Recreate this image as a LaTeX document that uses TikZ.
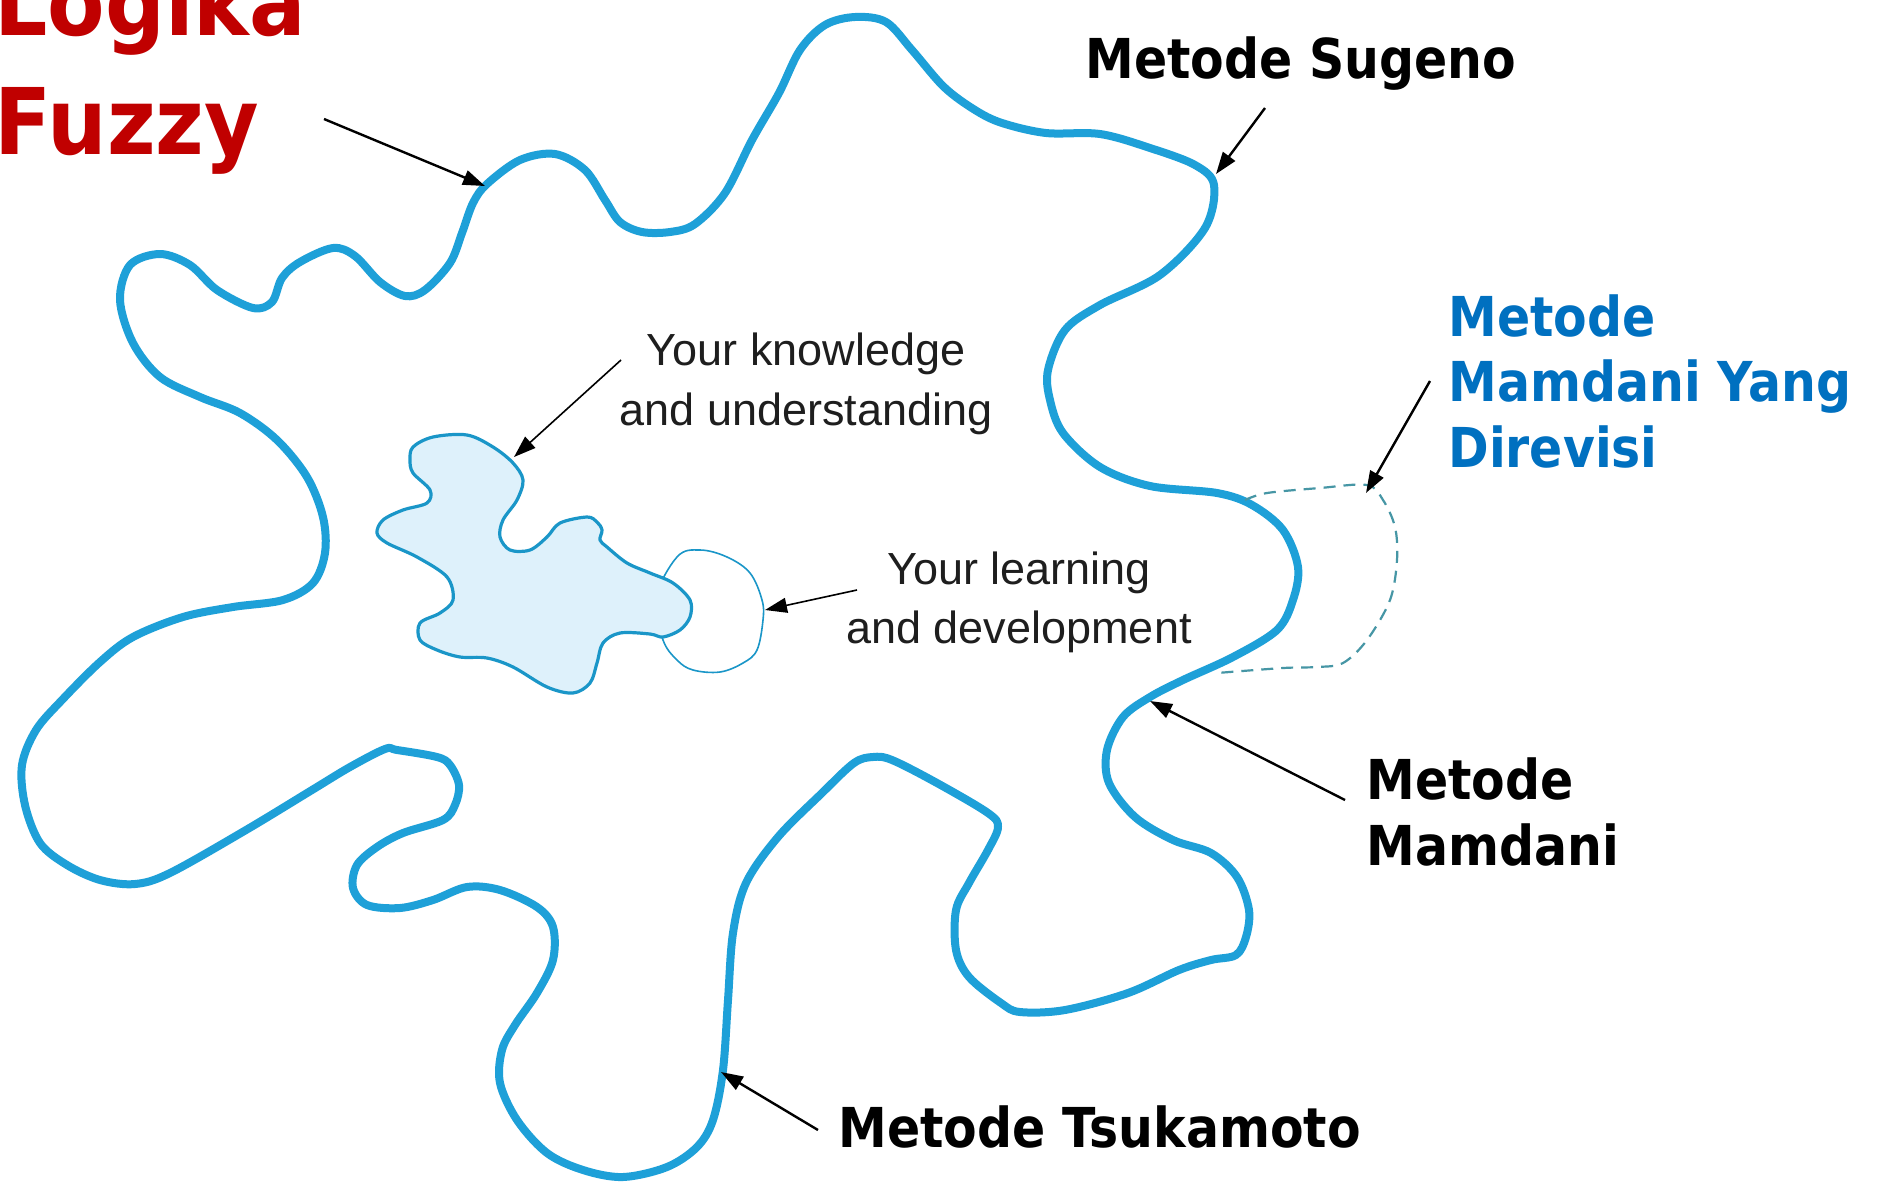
\documentclass[tikz,border=0pt]{standalone}
\usepackage{fontspec}
\usetikzlibrary{arrows.meta}
\newfontfamily\lblfont{DejaVu Sans}[FakeStretch=0.89]
\newfontfamily\titlefont{DejaVu Sans}[FakeStretch=0.91]
\newfontfamily\txtfont{Liberation Sans}
\definecolor{blobline}{RGB}{30,160,216}
\definecolor{innerline}{RGB}{26,150,200}
\definecolor{innerfill}{RGB}{222,241,251}
\definecolor{dashline}{RGB}{70,150,165}
\definecolor{fuzzyred}{RGB}{192,0,0}
\definecolor{mamblue}{RGB}{0,112,192}
\definecolor{txtgray}{RGB}{30,30,30}
\tikzset{
  ptr/.style={line width=1.2pt, draw=black, -{Triangle[length=11pt,width=7.5pt]}},
  thinptr/.style={line width=0.8pt, draw=black, -{Triangle[length=11pt,width=7.5pt]}},
  bold lbl/.style={anchor=base west, inner sep=0pt, font=\lblfont\bfseries\fontsize{27.5}{33}\selectfont},
  title lbl/.style={anchor=base west, inner sep=0pt, text=fuzzyred, font=\titlefont\bfseries\fontsize{46}{59}\selectfont},
  inner lbl/.style={anchor=base, inner sep=0pt, text=txtgray, font=\txtfont\fontsize{22.5}{30}\selectfont},
  outerblob/.style={draw=blobline, line width=4pt, line join=round},
  innerblob/.style={draw=innerline, fill=innerfill, line width=1.6pt, line join=round},
  learncircle/.style={draw=innerline, line width=0.8pt, fill=white},
  dashcurve/.style={draw=dashline, line width=1.1pt, dash pattern=on 6pt off 4pt}
}
\begin{document}
\begin{tikzpicture}[x=0.5pt,y=-0.5pt]
\useasboundingbox (0,0) rectangle (1879,1184);
\clip (0,0) rectangle (1879,1184);
\fill[white] (0,0) rectangle (1879,1184);

% outer blob
\draw[outerblob] plot[smooth cycle, tension=0.55] coordinates {
(120,300) (130,265) (160,254) (190,265) (217,290) (253,308) (272,302) (282,278) (300,262) (333,248) (355,256) (380,282) (405,296) (425,290) (450,263) (462,233) (473,203) (487,184) (520,160) (555,154) (585,170) (605,200) (620,222) (642,232) (670,232) (695,224) (725,193) (752,140) (779,93) (800,50) (825,25) (855,17) (886,22) (912,50) (944,87) (975,110) (1002,123) (1046,133) (1100,134) (1150,148) (1195,165) (1214,185) (1205,228) (1160,275) (1100,305) (1065,330) (1048,370) (1050,400) (1063,433) (1100,467) (1150,486) (1217,493) (1252,505) (1283,530) (1298,567) (1293,600) (1277,630) (1233,657) (1183,680) (1150,697) (1123,717) (1107,750) (1109,783) (1135,817) (1173,840) (1211,853) (1237,877) (1249,910) (1246,937) (1236,955) (1211,960) (1179,970) (1128,993) (1065,1010) (1020,1012) (1001,1003) (969,977) (956,950) (956,910) (969,883) (988,850) (998,827) (988,813) (937,783) (892,760) (873,757) (854,763) (822,793) (778,837) (746,883) (733,933) (728,1000) (723,1070) (713,1120) (697,1147) (667,1167) (623,1177) (583,1170) (547,1153) (517,1120) (500,1083) (502,1050) (515,1025) (537,993) (553,960) (553,927) (537,907) (500,890) (467,887) (433,900) (400,908) (367,905) (353,888) (357,865) (377,847) (403,833) (443,820) (455,805) (459,785) (450,765) (437,757) (397,750) (385,749) (350,767) (312,790) (246,830) (170,873) (135,884) (100,880) (67,865) (40,843) (25,805) (22,765) (36,730) (62,700) (100,662) (133,637) (183,617) (233,607) (283,600) (313,583) (325,553) (323,517) (307,477) (277,440) (240,413) (200,397) (160,377) (133,343)
};

% dashed revised region
\draw[dashcurve] plot[smooth, tension=0.55] coordinates {
(1245,500) (1267,493) (1320,488) (1367,485) (1383,500) (1395,527) (1397,560) (1390,600) (1367,640) (1343,663) (1317,667) (1283,668) (1217,673)
};

% learning circle (behind inner blob)
\draw[learncircle] plot[smooth cycle, tension=0.6] coordinates {
(663,640) (655,600) (677,557) (700,550) (727,557) (750,573) (762,600) (763,620) (757,650) (743,663) (720,672) (693,670) (677,660)
};

% inner knowledge blob
\draw[innerblob] plot[smooth cycle, tension=0.55] coordinates {
(413,447) (433,437) (467,435) (493,447) (513,463) (523,480) (517,500) (503,520) (500,537) (510,550) (530,550) (547,537) (560,523) (587,517) (597,522) (602,530) (600,540) (607,547) (627,563) (650,573) (673,583) (690,600) (690,617) (680,630) (663,637) (650,634) (620,633) (603,643) (597,663) (590,683) (573,693) (547,687) (513,667) (487,658) (460,657) (437,650) (420,640) (420,623) (440,613) (453,600) (447,577) (417,557) (387,543) (377,533) (383,520) (403,510) (427,503) (430,490) (413,473) (410,460)
};

% texts
\node[title lbl] (logika) at (-6,35) {Logika};
\node[title lbl] (fuzzy) at (-6,154) {Fuzzy};
\node[bold lbl] (sugeno) at (1085,78) {Metode Sugeno};
\node[bold lbl, text=mamblue] (rev1) at (1448,336) {Metode};
\node[bold lbl, text=mamblue] (rev2) at (1448,401) {Mamdani Yang};
\node[bold lbl, text=mamblue] (rev3) at (1448,467) {Direvisi};
\node[bold lbl] (mam1) at (1366,799) {Metode};
\node[bold lbl] (mam2) at (1366,865) {Mamdani};
\node[bold lbl] (tsuka) at (838,1147) {Metode Tsukamoto};
\node[inner lbl] (know1) at (806,365) {Your knowledge};
\node[inner lbl] (know2) at (806,425) {and understanding};
\node[inner lbl] (learn1) at (1019,584) {Your learning};
\node[inner lbl] (learn2) at (1019,643) {and development};

% arrow end points
\coordinate (logikaS) at (324,119);
\coordinate (logikaT) at (485,186);
\coordinate (sugenoS) at (1265,108);
\coordinate (sugenoT) at (1216,174);
\coordinate (revS) at (1430,381);
\coordinate (revT) at (1366,493);
\coordinate (mamS) at (1345,800);
\coordinate (mamT) at (1150,701);
\coordinate (tsukaS) at (818,1130);
\coordinate (tsukaT) at (721,1072);
\coordinate (knowS) at (621,360);
\coordinate (knowT) at (514,457);
\coordinate (learnS) at (857,590);
\coordinate (learnT) at (765,610);

\draw[ptr] (logikaS) -- (logikaT);
\draw[ptr] (sugenoS) -- (sugenoT);
\draw[ptr] (revS) -- (revT);
\draw[ptr] (mamS) -- (mamT);
\draw[ptr] (tsukaS) -- (tsukaT);
\draw[thinptr] (knowS) -- (knowT);
\draw[thinptr] (learnS) -- (learnT);
\end{tikzpicture}
\end{document}
